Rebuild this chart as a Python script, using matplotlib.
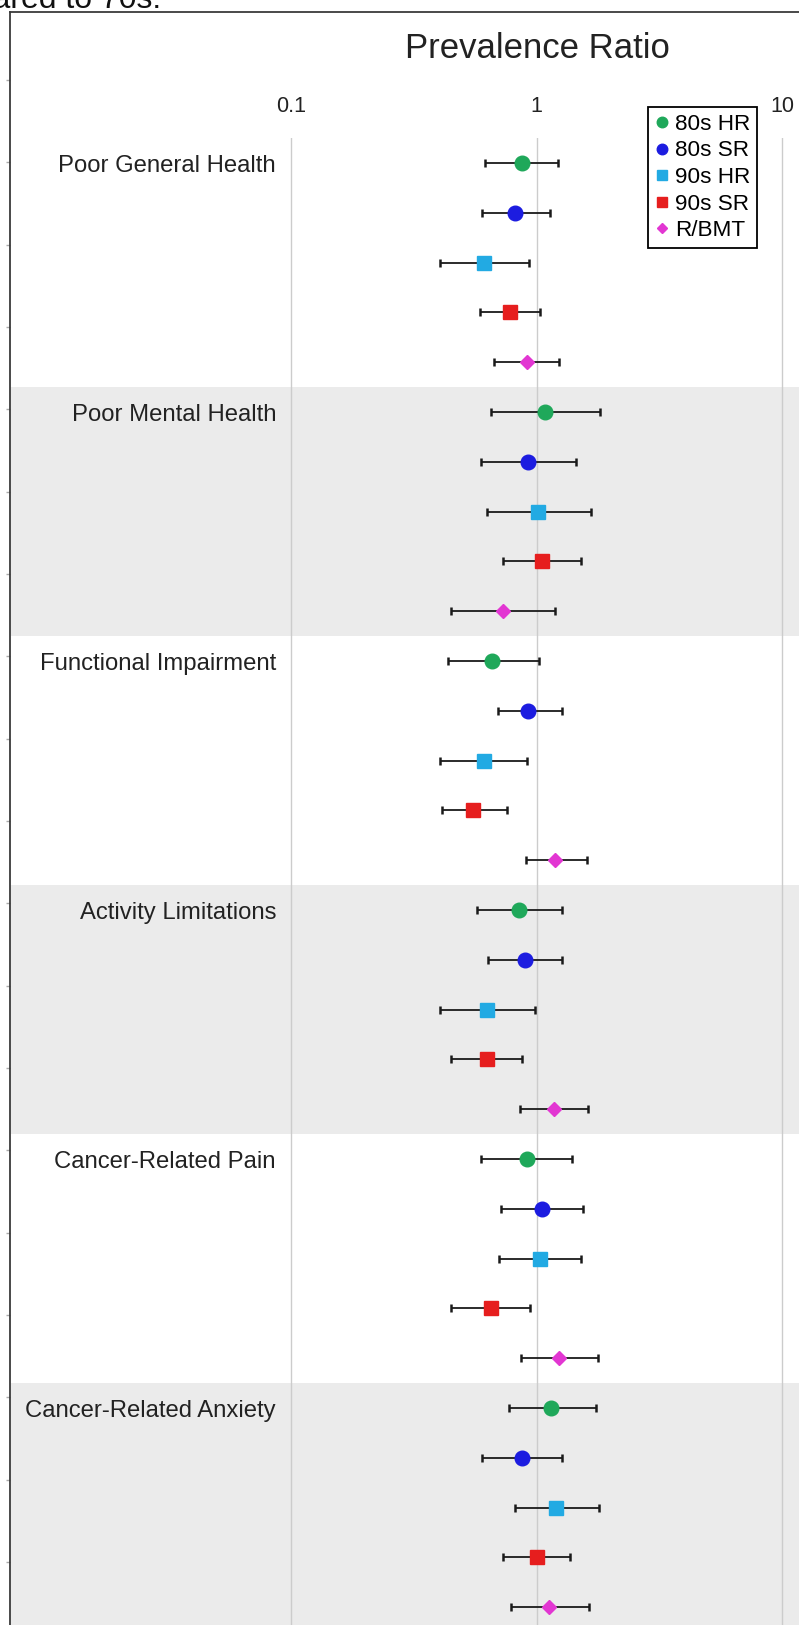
import numpy as np
import matplotlib
matplotlib.use('Agg')
import matplotlib.pyplot as plt
from matplotlib.lines import Line2D
from matplotlib.ticker import NullLocator

plt.rcParams['font.family'] = ['Liberation Sans', 'DejaVu Sans']

outcomes = ["Poor General Health", "Poor Mental Health", "Functional Impairment",
            "Activity Limitations", "Cancer-Related Pain", "Cancer-Related Anxiety"]
series = ["80s HR", "80s SR", "90s HR", "90s SR", "R/BMT"]
colors = ["#1fa85a", "#1c1ce0", "#22aae3", "#e61e1e", "#e236d2"]
markers = ["o", "o", "s", "s", "D"]
msizes = [10.5, 10.5, 10.0, 10.0, 7.6]

# prevalence ratio estimates (point, lower CI, upper CI) by outcome
pr_80s_hr = [0.871, 1.078, 0.658, 0.847, 0.911, 1.147]
lo_80s_hr = [0.616, 0.654, 0.434, 0.573, 0.593, 0.774]
hi_80s_hr = [1.229, 1.806, 1.022, 1.268, 1.401, 1.745]

pr_80s_sr = [0.816, 0.922, 0.922, 0.899, 1.051, 0.869]
lo_80s_sr = [0.601, 0.593, 0.694, 0.637, 0.720, 0.601]
hi_80s_sr = [1.130, 1.451, 1.268, 1.268, 1.544, 1.272]

pr_90s_hr = [0.610, 1.016, 0.610, 0.626, 1.029, 1.202]
lo_90s_hr = [0.403, 0.630, 0.403, 0.403, 0.702, 0.814]
hi_90s_hr = [0.928, 1.660, 0.916, 0.984, 1.525, 1.789]

pr_90s_sr = [0.778, 1.055, 0.549, 0.626, 0.650, 1.003]
lo_90s_sr = [0.591, 0.729, 0.412, 0.449, 0.449, 0.729]
hi_90s_sr = [1.035, 1.520, 0.757, 0.874, 0.939, 1.367]

pr_rbmt = [0.916, 0.729, 1.195, 1.180, 1.240, 1.126]
lo_rbmt = [0.670, 0.449, 0.905, 0.853, 0.863, 0.784]
hi_rbmt = [1.240, 1.195, 1.599, 1.618, 1.783, 1.638]

pr_all = [pr_80s_hr, pr_80s_sr, pr_90s_hr, pr_90s_sr, pr_rbmt]
lo_all = [lo_80s_hr, lo_80s_sr, lo_90s_hr, lo_90s_sr, lo_rbmt]
hi_all = [hi_80s_hr, hi_80s_sr, hi_90s_hr, hi_90s_sr, hi_rbmt]

xticks = [0.1, 1, 10]
xticklabels = ["0.1", "1", "10"]

W, H = 799, 1625
fig = plt.figure(figsize=(W / 100, H / 100), dpi=100)
fx = lambda x: x / W
fy = lambda y: 1 - y / H

# main plotting axes
top_px, bot_px = 138.1, 1632.1
left_px, right_px = 10.5, 805
ax = fig.add_axes([fx(left_px), fy(bot_px), (right_px - left_px) / W, (bot_px - top_px) / H])
ax.set_facecolor('none')
ax.set_xscale('log')
ppd = 245.5  # pixels per decade
ax.set_xlim(10 ** (-1 - (291 - left_px) / ppd), 10 ** (-1 + (right_px - 291) / ppd))
n_rows = len(outcomes) * len(series)
ax.set_ylim(n_rows - 0.5, -0.5)
for sp in ax.spines.values():
    sp.set_visible(False)
ax.xaxis.tick_top()
ax.set_xticks(xticks)
ax.set_xticklabels(xticklabels)
ax.xaxis.set_minor_locator(NullLocator())
ax.tick_params(axis='x', length=0, pad=15.5, labelsize=15.5, labelcolor='#222222')
ax.set_yticks([])

for g in range(len(outcomes)):
    if g % 2 == 1:
        ax.axhspan(g * 5 - 0.5, g * 5 + 4.5, color='#ebebeb', lw=0, zorder=0)
for xv in xticks:
    ax.axvline(xv, color='#cccccc', lw=1.0, zorder=1)

for s in range(len(series)):
    pr = np.array(pr_all[s])
    lo = np.array(lo_all[s])
    hi = np.array(hi_all[s])
    rows = np.arange(len(outcomes)) * len(series) + s
    ax.errorbar(pr, rows, xerr=[pr - lo, hi - pr], fmt=markers[s], color=colors[s],
                ms=msizes[s], mec=colors[s], ecolor='#1a1a1a', elinewidth=1.3,
                capsize=2.8, capthick=1.8, zorder=3)

for g, name in enumerate(outcomes):
    ax.annotate(name, xy=(0.1, g * len(series)), xytext=(-10.8, -6.6),
                textcoords='offset points', ha='right', va='baseline',
                fontsize=17.2, color='#222222', annotation_clip=False)

# outer frame with small left ticks
fa = fig.add_axes([fx(10), fy(1700), 1.0, (1700 - 12) / H], facecolor='none')
fa.set_zorder(2)
fa.set_xlim(0, 1)
fa.set_ylim(1700, 12)
fa.spines['right'].set_visible(False)
fa.spines['bottom'].set_visible(False)
for k in ('left', 'top'):
    fa.spines[k].set_color('#3a3a3a')
    fa.spines[k].set_linewidth(1.3)
fa.set_xticks([])
fa.set_yticks(np.arange(80, 1625, 82.33))
fa.tick_params(axis='y', length=3, width=1, color='#aaaaaa', direction='out', labelleft=False)

fig.text(fx(537), fy(58), "Prevalence Ratio", ha='center', va='baseline',
         fontsize=25, color='#222222')
fig.text(fx(161), fy(8), "Compared to 70s.", ha='right', va='baseline',
         fontsize=23, color='#111111')

handles = [Line2D([], [], marker=m, color=c, ls='none', ms=ms * 0.72)
           for m, c, ms in zip(markers, colors, msizes)]
leg = fig.legend(handles, series, loc='upper left', bbox_to_anchor=(fx(648), fy(107)),
                 frameon=True, fancybox=False, edgecolor='black', framealpha=1,
                 fontsize=16.2, borderpad=0.3, labelspacing=0.25, handlelength=0.6,
                 handletextpad=0.3, borderaxespad=0)
leg.get_frame().set_linewidth(1.3)
leg.set_zorder(10)

fig.savefig('out.png', dpi=100)
